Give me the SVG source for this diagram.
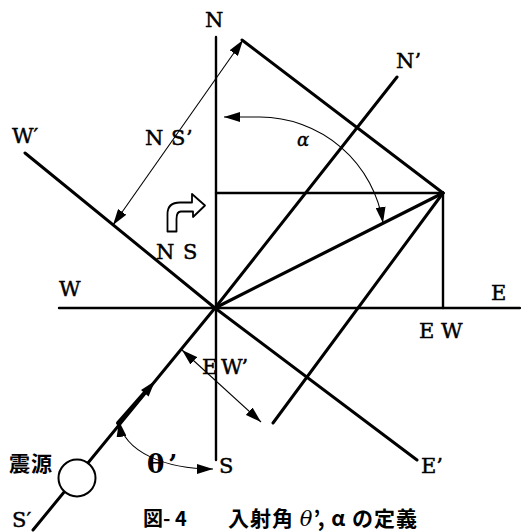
<svg xmlns="http://www.w3.org/2000/svg" width="521" height="532" viewBox="0 0 521 532">
<style>
.ln{fill:none;stroke:#000;stroke-linecap:round;stroke-linejoin:round}
.thin{fill:none;stroke:#000;stroke-width:1.1}
.lbl{font-family:"DejaVu Serif","Liberation Serif",serif;font-size:21px;fill:#000;stroke:#000;stroke-width:0.45}
.jp{font-family:"Noto Sans CJK JP","Noto Sans",sans-serif;font-weight:bold;fill:#000}
</style>
<defs>
<marker id="ah" viewBox="0 0 16 10" refX="16" refY="5" markerWidth="16" markerHeight="10" markerUnits="userSpaceOnUse" orient="auto-start-reverse">
<path d="M0,0 L16,5 L0,10 z" fill="#000"/>
</marker>
</defs>
<rect width="521" height="532" fill="#fff"/>
<g id="connectors">
<line class="ln" x1="216" y1="37" x2="216" y2="460" stroke-width="2.4"/>
<line class="ln" x1="59" y1="308" x2="520" y2="308" stroke-width="2.4"/>
<polyline class="ln" points="25,153 215,308 417,460" stroke-width="3"/>
<polyline class="ln" points="33,530 215,308 397,77" stroke-width="3"/>
<line class="ln" x1="215" y1="308" x2="443" y2="193" stroke-width="3.2"/>
<line class="ln" x1="216" y1="193" x2="443" y2="193" stroke-width="2.4"/>
<line class="ln" x1="443" y1="193" x2="443" y2="308" stroke-width="2.4"/>
<line class="ln" x1="242" y1="40" x2="443" y2="193" stroke-width="3"/>
<line class="ln" x1="443" y1="193" x2="273" y2="423" stroke-width="3"/>
<line class="ln" x1="118" y1="423" x2="147" y2="390" stroke-width="4"/>
<polygon points="155,381 148.6,396.5 141,390.1" fill="#000"/>
<line class="thin" x1="243" y1="40" x2="113" y2="225" marker-start="url(#ah)" marker-end="url(#ah)"/>
<path class="thin" d="M224 117 L260 117 A125 125 0 0 1 383 223" marker-start="url(#ah)" marker-end="url(#ah)"/>
<line class="thin" x1="182" y1="350" x2="261" y2="422" marker-start="url(#ah)" marker-end="url(#ah)"/>
<path class="thin" d="M119 421 C124 452 165 469 213 469" marker-start="url(#ah)" marker-end="url(#ah)"/>
</g>
<g id="source">
<circle cx="77" cy="478" r="18.5" fill="#fff" stroke="#000" stroke-width="2"/>
</g>
<g id="bent-arrow">
<path d="M167.5 231.5 L167.5 214 Q167.5 202.5 180 202.5 L192 202.5 L192 194 L205 205.5 L193 217 L193 211.5 L181 211.5 Q176.5 211.5 176.5 219 L176.5 231.5 Z" fill="#fff" stroke="#000" stroke-width="1.8" stroke-linejoin="round"/>
</g>
<g id="labels">
<text class="lbl" x="205" y="27" font-size="19">N</text>
<text class="lbl" x="396" y="68">N’</text>
<text class="lbl" x="12" y="143">W′</text>
<text class="lbl" x="145" y="145" letter-spacing="0.5">N S’</text>
<text x="297" y="146" font-family="DejaVu Serif, serif" font-style="italic" font-size="18" stroke="#000" stroke-width="0.4">α</text>
<text class="lbl" x="156" y="259" letter-spacing="1">N S</text>
<text class="lbl" x="59" y="296">W</text>
<text class="lbl" x="491" y="300">E</text>
<text class="lbl" x="419" y="338">E W</text>
<text class="lbl" x="202" y="374" letter-spacing="-1.5">E W’</text>
<text class="lbl" x="421" y="473">E’</text>
<text class="lbl" x="219" y="473">S</text>
<text class="lbl" x="12" y="527">S′</text>
<text x="147" y="473" font-family="DejaVu Serif, serif" font-weight="bold" font-size="26" letter-spacing="4">θ’</text>
<text class="jp" x="9" y="471" font-size="21" letter-spacing="1">震源</text>
</g>
<g id="caption">
<text class="jp" x="143" y="526" font-size="20">図- 4</text>
<text class="jp" x="228" y="526" font-size="21" letter-spacing="1">入射角 <tspan font-family="DejaVu Serif, serif" font-style="italic" font-weight="normal">θ</tspan>’, α の定義</text>
</g>
</svg>
